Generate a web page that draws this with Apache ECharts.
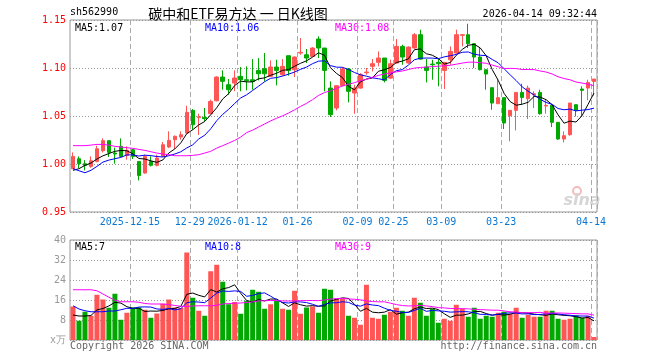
<!DOCTYPE html>
<html><head><meta charset="utf-8">
<script src="https://cdn.jsdelivr.net/npm/echarts@6/dist/echarts.min.js"></script>
<style>html,body{margin:0;padding:0;background:#fff}#c{width:660px;height:360px}</style>
</head><body><div id="c"></div>
<script>
const dates = [
'2025-12-01','2025-12-02','2025-12-03','2025-12-04','2025-12-05','2025-12-08','2025-12-09','2025-12-10','2025-12-11','2025-12-12',
'2025-12-15','2025-12-16','2025-12-17','2025-12-18','2025-12-19','2025-12-22','2025-12-23','2025-12-24','2025-12-25','2025-12-26',
'2025-12-29','2025-12-30','2025-12-31','2026-01-05','2026-01-06','2026-01-07','2026-01-08','2026-01-09','2026-01-12','2026-01-13',
'2026-01-14','2026-01-15','2026-01-16','2026-01-19','2026-01-20','2026-01-21','2026-01-22','2026-01-23','2026-01-26','2026-01-27',
'2026-01-28','2026-01-29','2026-01-30','2026-02-02','2026-02-03','2026-02-04','2026-02-05','2026-02-06','2026-02-09','2026-02-10',
'2026-02-11','2026-02-12','2026-02-13','2026-02-24','2026-02-25','2026-02-26','2026-02-27','2026-03-02','2026-03-03','2026-03-04',
'2026-03-05','2026-03-06','2026-03-09','2026-03-10','2026-03-11','2026-03-12','2026-03-13','2026-03-16','2026-03-17','2026-03-18',
'2026-03-19','2026-03-20','2026-03-23','2026-03-24','2026-03-25','2026-03-26','2026-03-27','2026-03-30','2026-03-31','2026-04-01',
'2026-04-02','2026-04-03','2026-04-07','2026-04-08','2026-04-09','2026-04-10','2026-04-13','2026-04-14'];

const opens = [0.9951,1.0055,1.0003,0.9975,1.0027,1.0138,1.0243,1.0114,1.0184,1.0090,
1.0149,1.0027,0.9906,1.0027,0.9986,1.0079,1.0177,1.0253,1.0281,1.0322,
1.0559,1.0483,1.0486,1.0524,1.0659,1.0906,1.0826,1.0843,1.0913,1.0878,
1.0878,1.0975,1.0993,1.0913,1.1010,1.0930,1.1128,1.0982,1.1156,1.1138,
1.1121,1.1302,1.1208,1.0791,1.0583,1.0816,1.0989,1.0739,1.0791,1.0951,
1.1017,1.1059,1.1104,1.0895,1.1052,1.1225,1.1052,1.1208,1.1347,1.1010,
1.1041,1.1059,1.0975,1.1086,1.1156,1.1340,1.1347,1.1253,1.1114,1.0982,
1.0795,1.0628,1.0691,1.0503,1.0559,1.0746,1.0680,1.0722,1.0746,1.0604,
1.0611,1.0434,1.0260,1.0305,1.0618,1.0781,1.0791,1.0860];
const closes = [1.0079,1.0003,0.9986,1.0034,1.0159,1.0243,1.0121,1.0104,1.0079,1.0142,
1.0079,0.9881,1.0079,0.9986,1.0062,1.0201,1.0246,1.0288,1.0305,1.0538,
1.0409,1.0493,1.0472,1.0652,1.0906,1.0861,1.0774,1.0896,1.0878,1.0868,
1.0860,1.0940,1.0940,1.1010,1.0975,1.1017,1.0975,1.1114,1.1163,1.1104,
1.1208,1.1208,1.0975,1.0514,1.0816,1.0989,1.0757,1.0791,1.0930,1.0958,
1.1045,1.1104,1.0871,1.1045,1.1225,1.1114,1.1218,1.1347,1.1093,1.0975,
1.1034,1.1045,1.1059,1.1173,1.1347,1.1347,1.1253,1.1114,1.0982,1.0937,
1.0635,1.0691,1.0427,1.0559,1.0746,1.0694,1.0791,1.0732,1.0524,1.0611,
1.0434,1.0260,1.0295,1.0635,1.0559,1.0767,1.0850,1.0885];
const lows = [0.9951,0.9958,0.9934,0.9960,1.0017,1.0120,1.0073,1.0003,1.0073,1.0045,
1.0052,0.9829,0.9900,0.9975,0.9975,1.0073,1.0166,1.0156,1.0253,1.0316,
1.0357,1.0302,1.0444,1.0520,1.0652,1.0774,1.0722,1.0757,1.0757,1.0767,
1.0774,1.0871,1.0860,1.0906,1.0819,1.0920,1.0920,1.0906,1.1138,1.1052,
1.1114,1.1104,1.0757,1.0489,1.0559,1.0809,1.0642,1.0524,1.0784,1.0930,
1.0965,1.1017,1.0850,1.0885,1.1045,1.1034,1.1045,1.1201,1.1086,1.0850,
1.0878,1.0809,1.0781,1.1034,1.1149,1.1225,1.1208,1.1000,1.0975,1.0774,
1.0565,1.0628,1.0364,1.0236,1.0350,1.0618,1.0468,1.0583,1.0514,1.0524,
1.0385,1.0253,1.0225,1.0295,1.0496,1.0496,1.0663,1.0712];
const highs = [1.0121,1.0079,1.0040,1.0080,1.0190,1.0267,1.0243,1.0170,1.0267,1.0184,
1.0156,1.0027,1.0097,1.0080,1.0097,1.0229,1.0340,1.0298,1.0340,1.0607,
1.0572,1.0523,1.0583,1.0670,1.0913,1.0975,1.0885,1.0975,1.1010,1.1017,
1.1093,1.1103,1.1156,1.1079,1.1086,1.1093,1.1128,1.1121,1.1312,1.1198,
1.1218,1.1330,1.1208,1.0861,1.0816,1.1010,1.1000,1.0826,1.0947,1.1000,
1.1093,1.1173,1.1104,1.1086,1.1302,1.1243,1.1225,1.1364,1.1399,1.1093,
1.1086,1.1093,1.1059,1.1225,1.1399,1.1354,1.1461,1.1253,1.1208,1.0982,
1.0795,1.0885,1.0691,1.0559,1.0746,1.0836,1.0816,1.0757,1.0774,1.0677,
1.0611,1.0434,1.0340,1.0635,1.0618,1.0809,1.0878,1.0885];
const volumes = [13.4,7.7,11.3,9.7,18.1,16.2,12.9,18.5,8.1,10.9,
13.0,13.0,12.1,8.9,10.6,14.5,16.2,13.0,12.8,35.0,
16.9,11.7,9.7,27.5,30.1,23.3,14.3,15.2,10.5,15.7,
20.1,19.3,12.5,14.3,15.7,12.5,12.1,19.7,10.5,13.0,
13.4,10.9,20.5,20.1,16.4,16.4,9.7,8.9,6.1,22.1,
8.9,8.5,10.1,11.3,12.9,11.7,9.7,16.9,14.9,9.7,
12.5,6.9,8.5,7.7,14.1,12.5,9.3,12.9,8.5,9.7,
9.3,10.9,11.3,10.5,12.9,8.9,10.1,9.3,9.3,11.7,
11.7,8.5,8.1,8.5,9.9,8.9,9.7,1.2];

// moving-average values at the start of the window (earlier data not visible)
const ma5Lead = [0.9934,0.9951,0.9986,1.0010];
const ma10Lead = [0.9951,0.9930,0.9909,0.9934,0.9975,1.0020,1.0041,1.0055,1.0069];
const ma30Lead = [1.0191,1.0191,1.0191,1.0197,1.0204,1.0204,1.0197,1.0184,1.0177,1.0170,
1.0163,1.0152,1.0142,1.0128,1.0114,1.0104,1.0097,1.0086,1.0086,1.0086,
1.0090,1.0097,1.0114,1.0132,1.0166,1.0191,1.0218,1.0246,1.0281];
const vma5Lead = [10.0,9.6,9.6,9.8];
const vma10Lead = [13.7,12.4,11.7,11.3,11.3,11.3,11.6,11.6,12.1];
const vma30Lead = [20.1,20.1,20.1,20.1,19.7,18.4,17.1,15.9,15.3,15.3,
15.3,15.1,14.6,14.4,14.4,14.4,14.2,13.8,13.5,13.4,
13.6,13.7,13.7,13.7,13.9,14.4,14.6,14.7,14.8];

const tickIndex = [10,20,28,38,48,54,62,72,87];
const tickText = ['2025-12-15','12-29','2026-01-12','01-26','02-09','02-25','03-09','03-23','04-14'];
const priceTicks = [0.95,1.00,1.05,1.10,1.15];
const volTicks = [0,8,16,24,32,40];

const legendPrice = ['MA5:1.07','MA10:1.06','MA30:1.08'];
const legendVol = ['MA5:7','MA10:8','MA30:9'];

function ma(src, n, lead){
  return src.map((v,i)=>{
    if(i < n-1) return lead[i];
    let s=0; for(let k=i-n+1;k<=i;k++) s+=src[k];
    return +(s/n).toFixed(4);
  });
}

const UP='#ff5555', DOWN='#00a800';
const MONO='"DejaVu Sans Mono", "Liberation Mono", monospace';
const candles = dates.map((d,i)=>[opens[i],closes[i],lows[i],highs[i]]);
const volData = volumes.map((v,i)=>({value:v,itemStyle:{color: closes[i]>=opens[i]?UP:DOWN}}));
const showTick = (i)=>tickIndex.indexOf(i)>=0;

const chart = echarts.init(document.getElementById('c'), null, {renderer:'canvas'});
const splitX = {show:true, interval:(i)=>showTick(i), lineStyle:{color:'#aaaaaa', type:[5,3], width:1}};
chart.setOption({
  animation:false,
  backgroundColor:'#ffffff',
  grid:[
    {left:70, top:20, width:527, height:192, show:true, borderColor:'#999999', borderWidth:1, backgroundColor:'transparent'},
    {left:70, top:240, width:527, height:100, show:true, borderColor:'#999999', borderWidth:1, backgroundColor:'transparent'}
  ],
  xAxis:[
    {type:'category', gridIndex:0, data:dates, boundaryGap:true,
     axisLine:{show:false}, axisTick:{show:false},
     axisLabel:{interval:(i)=>showTick(i), formatter:(v,i)=>tickText[tickIndex.indexOf(i)]||'',
       color:'#0a78d2', fontFamily:MONO, fontSize:10, margin:5, padding:[0,6,0,0]},
     splitLine:splitX},
    {type:'category', gridIndex:1, data:dates, boundaryGap:true,
     axisLine:{show:false}, axisTick:{show:false}, axisLabel:{show:false},
     splitLine:splitX}
  ],
  yAxis:[
    {type:'value', gridIndex:0, min:priceTicks[0], max:priceTicks[priceTicks.length-1], interval:0.05,
     axisLine:{show:false}, axisTick:{show:false},
     axisLabel:{color:'#ff0000', fontFamily:MONO, fontSize:10, margin:4, formatter:(v)=>v.toFixed(2)},
     splitLine:{show:true, lineStyle:{color:'#999999', type:[1,2], width:1}}},
    {type:'value', gridIndex:1, min:volTicks[0], max:volTicks[volTicks.length-1], interval:8,
     axisLine:{show:false}, axisTick:{show:false},
     axisLabel:{color:'#999999', fontFamily:MONO, fontSize:10, margin:4, formatter:(v)=>v===0?'x万':String(v)},
     splitLine:{show:true, lineStyle:{color:'#999999', type:[1,2], width:1}}}
  ],
  series:[
    {type:'candlestick', xAxisIndex:0, yAxisIndex:0, data:candles, barWidth:4,
     itemStyle:{color:UP, color0:DOWN, borderColor:UP, borderColor0:DOWN, borderWidth:1}, z:2},
    {type:'line', xAxisIndex:0, yAxisIndex:0, data:ma(closes,5,ma5Lead), showSymbol:false, lineStyle:{color:'#000000',width:1}, z:5},
    {type:'line', xAxisIndex:0, yAxisIndex:0, data:ma(closes,10,ma10Lead), showSymbol:false, lineStyle:{color:'#0000ff',width:1}, z:5},
    {type:'line', xAxisIndex:0, yAxisIndex:0, data:ma(closes,30,ma30Lead), showSymbol:false, lineStyle:{color:'#ff00ff',width:1}, z:5},
    {type:'bar', xAxisIndex:1, yAxisIndex:1, data:volData, barWidth:5, z:2},
    {type:'line', xAxisIndex:1, yAxisIndex:1, data:ma(volumes,5,vma5Lead), showSymbol:false, lineStyle:{color:'#000000',width:1}, z:5},
    {type:'line', xAxisIndex:1, yAxisIndex:1, data:ma(volumes,10,vma10Lead), showSymbol:false, lineStyle:{color:'#0000ff',width:1}, z:5},
    {type:'line', xAxisIndex:1, yAxisIndex:1, data:ma(volumes,30,vma30Lead), showSymbol:false, lineStyle:{color:'#ff00ff',width:1}, z:5}
  ],
  graphic:[
    {type:'text', left:70, top:7, style:{text:'sh562990', font:'10px '+MONO, fill:'#000'}},
    {type:'text', x:238, y:14, style:{text:'碳中和ETF易方达 一 日K线图', font:'14px "Noto Sans CJK SC"', fill:'#000', textAlign:'center', textVerticalAlign:'middle'}},
    {type:'text', x:597, y:14, style:{text:'2026-04-14 09:32:44', font:'10px '+MONO, fill:'#000', textAlign:'right', textVerticalAlign:'middle'}},
    {type:'text', x:75, y:28, style:{text:legendPrice[0], font:'10px '+MONO, fill:'#000000', textVerticalAlign:'middle'}},
    {type:'text', x:205, y:28, style:{text:legendPrice[1], font:'10px '+MONO, fill:'#0000ff', textVerticalAlign:'middle'}},
    {type:'text', x:335, y:28, style:{text:legendPrice[2], font:'10px '+MONO, fill:'#ff00ff', textVerticalAlign:'middle'}},
    {type:'text', x:75, y:247, style:{text:legendVol[0], font:'10px '+MONO, fill:'#000000', textVerticalAlign:'middle'}},
    {type:'text', x:205, y:247, style:{text:legendVol[1], font:'10px '+MONO, fill:'#0000ff', textVerticalAlign:'middle'}},
    {type:'text', x:335, y:247, style:{text:legendVol[2], font:'10px '+MONO, fill:'#ff00ff', textVerticalAlign:'middle'}},
    {type:'text', x:70, y:346, style:{text:'Copyright 2026 SINA.COM', font:'10px '+MONO, fill:'#666666', textVerticalAlign:'middle'}},
    {type:'text', x:597, y:346, style:{text:'http://finance.sina.com.cn', font:'10px '+MONO, fill:'#666666', textAlign:'right', textVerticalAlign:'middle'}},
    {type:'circle', shape:{cx:577, cy:191, r:4}, style:{fill:'none', stroke:'#f2bcbc', lineWidth:2}},
    {type:'text', x:582, y:201, style:{text:'sina', font:'italic bold 16px "DejaVu Sans"', fill:'#d6d6d6', textAlign:'center', textVerticalAlign:'middle'}}
  ]
});
</script>
</body></html>
